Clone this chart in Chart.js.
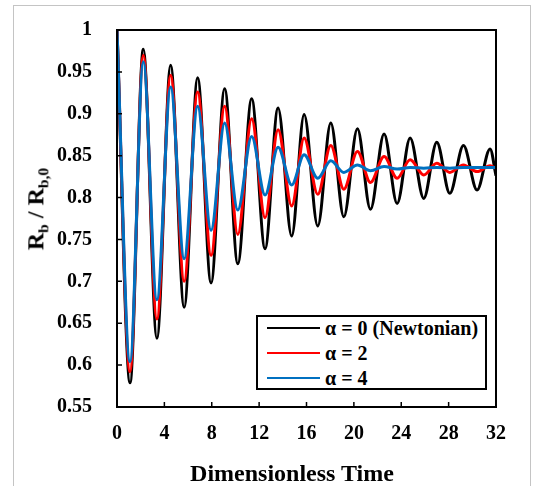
<!DOCTYPE html>
<html>
<head>
<meta charset="utf-8">
<script src="https://cdn.jsdelivr.net/npm/chart.js@4.4.0/dist/chart.umd.min.js"></script>
<style>
  html, body { margin: 0; padding: 0; background: #fff; }
  #wrap { position: relative; width: 535px; height: 486px; overflow: hidden;
          font-family: "Liberation Serif", "Times New Roman", serif; font-weight: bold; color: #000; }
  #frame { position: absolute; left: 13px; top: 5px; width: 516px; height: 520px; border: 1px solid #c4c4c4; }
  canvas { position: absolute; left: 0; top: 0; }
  #ytitle { position: absolute; left: 37px; top: 209px; transform: translate(-50%, -50%) rotate(-90deg);
            font-size: 24px; white-space: nowrap; line-height: 1; }
  #ytitle sub { font-size: 65%; vertical-align: -0.3em; }
  #xtitle { position: absolute; left: 292px; top: 473px; transform: translate(-50%, -50%);
            font-size: 24px; white-space: nowrap; line-height: 1; }
  #legend { position: absolute; left: 256px; top: 315px; width: 227px; height: 71px;
            border: 2px solid #000; background: #fff; }
  .row { position: absolute; left: 9px; height: 24px; display: flex; align-items: center;
         font-size: 20px; white-space: nowrap; }
  .row .swatch { display: inline-block; width: 53px; height: 2px; margin-right: 5px; }
</style>
</head>
<body>
<div id="wrap">
  <div id="frame"></div>
  <canvas id="bubbleChart" width="535" height="486"></canvas>
  <div id="ytitle">R<sub>b</sub> / R<sub>b,0</sub></div>
  <div id="xtitle">Dimensionless Time</div>
  <div id="legend"></div>
</div>
<script>
// dimensionless time at each turning point (peaks / troughs)
var times = [0, 1.1, 2.22, 3.37, 4.53, 5.67, 6.81, 7.94, 9.09, 10.2, 11.37, 12.5, 13.6, 14.75, 15.8,
             16.95, 18.05, 19.15, 20.3, 21.4, 22.55, 23.65, 24.75, 25.9, 27.0, 28.1, 29.25, 30.4, 31.5, 32];

// Rb / Rb,0
var alpha0 = [1.0, 0.579, 0.977, 0.632, 0.958, 0.669, 0.943, 0.698, 0.930, 0.721, 0.918, 0.739, 0.907, 0.754, 0.899,
              0.766, 0.889, 0.777, 0.882, 0.786, 0.876, 0.793, 0.871, 0.799, 0.866, 0.805, 0.862, 0.809, 0.858, 0.826];
var alpha2 = [1.0, 0.592, 0.970, 0.655, 0.946, 0.700, 0.926, 0.731, 0.909, 0.756, 0.894, 0.776, 0.881, 0.790, 0.871,
              0.804, 0.862, 0.810, 0.855, 0.818, 0.849, 0.823, 0.845, 0.827, 0.841, 0.830, 0.839, 0.831, 0.838, 0.835];
var alpha4 = [1.0, 0.604, 0.962, 0.678, 0.932, 0.727, 0.909, 0.761, 0.889, 0.785, 0.873, 0.803, 0.860, 0.815, 0.851,
              0.823, 0.844, 0.830, 0.839, 0.832, 0.837, 0.834, 0.836, 0.835, 0.836, 0.835, 0.836, 0.836, 0.836, 0.836];

var seriesNames = ['α = 0 (Newtonian)', 'α = 2', 'α = 4'];
var seriesColors = ['#000000', '#ff0000', '#0070c0'];

var xTickValues = [0, 4, 8, 12, 16, 20, 24, 28, 32];
var yTickValues = [0.55, 0.6, 0.65, 0.7, 0.75, 0.8, 0.85, 0.9, 0.95, 1];

function toPoints(vals) {
  return vals.map(function (v, i) { return { x: times[i], y: v }; });
}

var tickFont = { family: '"Liberation Serif", "Times New Roman", serif', size: 20, weight: 'bold' };

// box round the plot + inward tick marks
var frameTicks = {
  id: 'frameTicks',
  afterDatasetsDraw: function (chart) {
    var ctx = chart.ctx, a = chart.chartArea, xs = chart.scales.x, ys = chart.scales.y;
    ctx.save();
    ctx.strokeStyle = '#000';
    ctx.lineWidth = 2;
    ctx.strokeRect(a.left, a.top, a.right - a.left, a.bottom - a.top);
    ctx.lineWidth = 1.5;
    ctx.beginPath();
    xs.ticks.forEach(function (t) {
      var px = xs.getPixelForValue(t.value);
      ctx.moveTo(px, a.bottom); ctx.lineTo(px, a.bottom - 5);
    });
    ys.ticks.forEach(function (t) {
      var py = ys.getPixelForValue(t.value);
      ctx.moveTo(a.left, py); ctx.lineTo(a.left + 5, py);
    });
    ctx.stroke();
    ctx.restore();
  }
};

function drawChart() {
  var datasets = [alpha0, alpha2, alpha4].map(function (vals, i) {
    return {
      label: seriesNames[i],
      data: toPoints(vals),
      borderColor: seriesColors[i],
      backgroundColor: seriesColors[i],
      order: 3 - i   // blue on top, black underneath
    };
  });

  var ctx = document.getElementById('bubbleChart').getContext('2d');
  new Chart(ctx, {
    type: 'line',
    data: { datasets: datasets },
    options: {
      responsive: false,
      animation: false,
      layout: { padding: { top: 30, right: 39, bottom: 0, left: 0 } },
      elements: {
        point: { radius: 0 },
        line: { borderWidth: 3, cubicInterpolationMode: 'monotone' }
      },
      plugins: { legend: { display: false }, tooltip: { enabled: false } },
      scales: {
        x: {
          type: 'linear', min: 0, max: 32,
          afterFit: function (s) { s.height = 79; },
          afterBuildTicks: function (s) { s.ticks = xTickValues.map(function (v) { return { value: v }; }); },
          grid: { display: false },
          border: { display: false },
          ticks: { color: '#000', font: tickFont, padding: 7, maxRotation: 0,
                   callback: function (v) { return String(v); } }
        },
        y: {
          type: 'linear', min: 0.55, max: 1,
          afterFit: function (s) { s.width = 117; },
          afterBuildTicks: function (s) { s.ticks = yTickValues.map(function (v) { return { value: v }; }); },
          grid: { display: false },
          border: { display: false },
          ticks: { color: '#000', font: tickFont, padding: 17,
                   callback: function (v) { return String(+v.toFixed(2)); } }
        }
      }
    },
    plugins: [frameTicks]
  });
}

// legend drawn inside the plot, in the original order
var legend = document.getElementById('legend');
seriesNames.forEach(function (name, i) {
  var row = document.createElement('div');
  row.className = 'row';
  row.style.top = (-1 + i * 25) + 'px';
  row.innerHTML = '<span class="swatch" style="background:' + seriesColors[i] + '"></span>' + name;
  legend.appendChild(row);
});

document.fonts.load('bold 20px "Liberation Serif"').then(drawChart, drawChart);
</script>
</body>
</html>
